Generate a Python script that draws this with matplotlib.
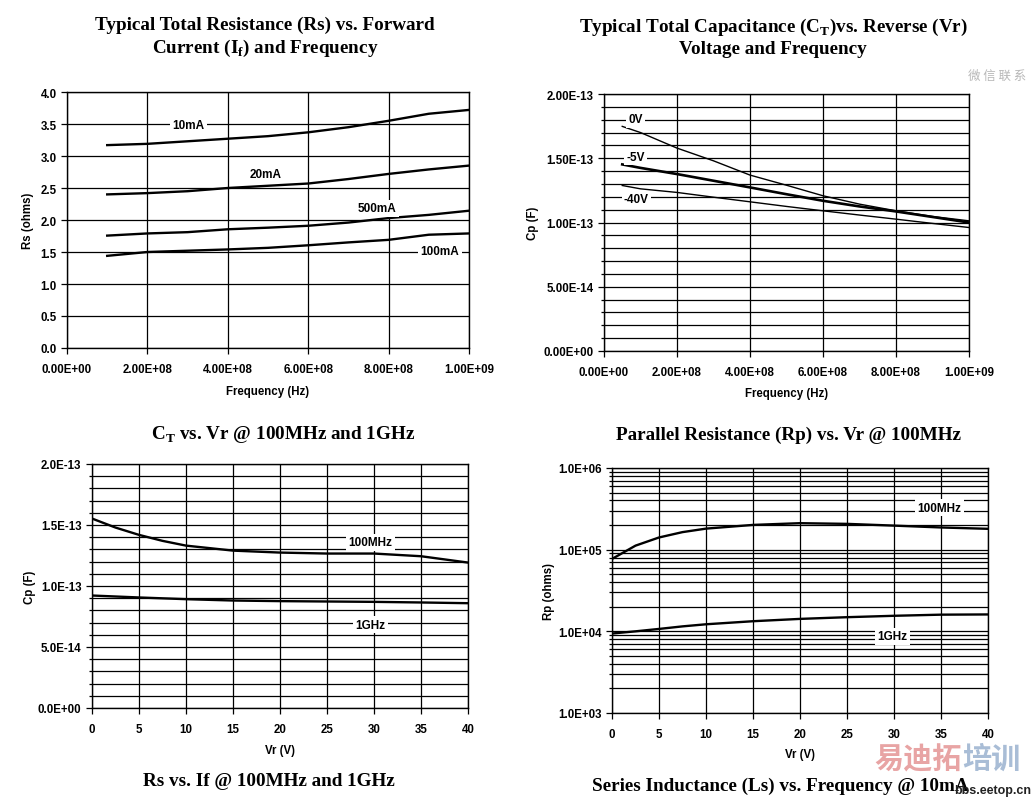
import numpy as np
import matplotlib
matplotlib.use("Agg")
import matplotlib.pyplot as plt
from matplotlib.ticker import MultipleLocator, FixedLocator, NullFormatter
from matplotlib.font_manager import FontProperties

W, H = 1033, 803

# ---- Rs vs frequency (top left)
freq_rs = [1e8, 2e8, 3e8, 4e8, 5e8, 6e8, 7e8, 8e8, 9e8, 1e9]
rs_10ma = [3.17, 3.19, 3.23, 3.27, 3.31, 3.37, 3.45, 3.55, 3.66, 3.72]
rs_20ma = [2.40, 2.42, 2.45, 2.50, 2.535, 2.57, 2.64, 2.72, 2.79, 2.85]
rs_500ma = [1.756, 1.79, 1.81, 1.855, 1.88, 1.91, 1.96, 2.03, 2.08, 2.145]
rs_100ma = [1.44, 1.50, 1.52, 1.54, 1.565, 1.605, 1.65, 1.69, 1.77, 1.79]

# ---- Cp vs frequency (top right), values in 1e-13 F
freq_cp = [5e7, 1e8, 2e8, 3e8, 4e8, 5e8, 6e8, 7e8, 8e8, 9e8, 1e9]
cp_0v = [1.748, 1.70, 1.579, 1.48, 1.369, 1.29, 1.208, 1.143, 1.091, 1.047, 1.013]
cp_5v = [1.452, 1.425, 1.377, 1.325, 1.273, 1.22, 1.169, 1.125, 1.086, 1.043, 1.00]
cp_40v = [1.288, 1.262, 1.234, 1.197, 1.161, 1.125, 1.091, 1.058, 1.026, 0.993, 0.961]

# ---- Cp vs Vr (bottom left), values in 1e-13 F
vr = [0, 2.5, 5, 7.5, 10, 15, 20, 25, 30, 35, 40]
ct_100mhz = [1.553, 1.479, 1.419, 1.37, 1.331, 1.29, 1.274, 1.266, 1.266, 1.244, 1.192]
ct_1ghz = [0.922, 0.914, 0.906, 0.899, 0.892, 0.881, 0.876, 0.873, 0.870, 0.865, 0.859]

# ---- Rp vs Vr (bottom right)
rp_100mhz = [7.7e4, 1.12e5, 1.41e5, 1.64e5, 1.81e5, 2.01e5, 2.11e5, 2.07e5, 1.97e5, 1.87e5, 1.80e5]
rp_1ghz = [9.4e3, 1.0e4, 1.07e4, 1.15e4, 1.22e4, 1.33e4, 1.42e4, 1.49e4, 1.55e4, 1.60e4, 1.61e4]

SANS = "Liberation Sans"
SERIF = "Liberation Serif"
TSIZE = 8.3


def rect(l, t, r, b):
    return [l / W, 1 - b / H, (r - l) / W, (b - t) / H]


def style(ax):
    ax.grid(True, which="both", color="black", lw=0.9)
    ax.set_axisbelow(True)
    for s in ax.spines.values():
        s.set_color("black")
        s.set_linewidth(1.0)
    ax.tick_params(which="major", direction="out", length=4, width=0.9, color="black")
    ax.tick_params(which="minor", direction="out", length=2.5, width=0.9, color="black")
    ax.tick_params(axis="x", pad=7)
    fp = FontProperties(family=SANS, weight="bold", size=TSIZE)
    for lab in ax.get_xticklabels() + ax.get_yticklabels():
        lab.set_fontproperties(fp)


def tag(ax, x, y, s):
    ax.text(x, y, s, ha="center", va="center", family=SANS, weight="bold", size=8.5,
            bbox=dict(fc="white", ec="none", pad=1.8), zorder=4)


def labels(ax, xl, yl, xpos, ypos):
    ax.set_xlabel(xl, family=SANS, weight="bold", size=8.3)
    ax.set_ylabel(yl, family=SANS, weight="bold", size=8.3)
    ax.xaxis.set_label_coords(*xpos)
    ax.yaxis.set_label_coords(*ypos)


def title(x, y, s, size=13.8):
    fig.text(x / W, 1 - y / H, s, ha="center", va="center", family=SERIF,
             weight="bold", size=size)


fig = plt.figure(figsize=(W / 100, H / 100), dpi=100)

# top left
ax1 = fig.add_axes(rect(67, 93, 469, 349))
for ys in (rs_10ma, rs_20ma, rs_500ma, rs_100ma):
    ax1.plot(freq_rs, ys, color="black", lw=1.7)
ax1.set_xlim(0, 1e9)
ax1.set_ylim(0, 4.0)
ax1.xaxis.set_major_locator(MultipleLocator(2e8))
ax1.yaxis.set_major_locator(MultipleLocator(0.5))
ax1.set_xticklabels(["{:.2E}".format(v) for v in ax1.get_xticks()])
ax1.set_yticklabels(["{:.1f}".format(v) for v in ax1.get_yticks()])
style(ax1)
tag(ax1, 3.02e8, 3.48, "10mA")
tag(ax1, 4.94e8, 2.72, "20mA")
tag(ax1, 7.72e8, 2.18, "500mA")
tag(ax1, 9.27e8, 1.51, "100mA")
labels(ax1, "Frequency (Hz)", "Rs (ohms)",
       ((268 - 67) / 402, -(386 - 349) / 256), (-(67 - 34) / 402, 0.5))

# top right
ax2 = fig.add_axes(rect(604, 95, 969, 352))
ax2.plot(freq_cp, np.array(cp_0v) * 1e-13, color="black", lw=1.0)
ax2.plot(freq_cp, np.array(cp_5v) * 1e-13, color="black", lw=1.9)
ax2.plot(freq_cp, np.array(cp_40v) * 1e-13, color="black", lw=1.0)
ax2.set_xlim(0, 1e9)
ax2.set_ylim(0, 2e-13)
ax2.xaxis.set_major_locator(MultipleLocator(2e8))
ax2.yaxis.set_major_locator(MultipleLocator(5e-14))
ax2.yaxis.set_minor_locator(MultipleLocator(1e-14))
ax2.set_xticklabels(["{:.2E}".format(v) for v in ax2.get_xticks()])
ax2.set_yticklabels(["{:.2E}".format(v) for v in ax2.get_yticks()])
style(ax2)
tag(ax2, 0.87e8, 1.805e-13, "0V")
tag(ax2, 0.87e8, 1.51e-13, "-5V")
tag(ax2, 0.89e8, 1.18e-13, "-40V")
labels(ax2, "Frequency (Hz)", "Cp (F)",
       ((787 - 604) / 365, -(388 - 352) / 257), (-(604 - 539) / 365, 0.5))

# bottom left
ax3 = fig.add_axes(rect(92, 465, 468, 709))
ax3.plot(vr, np.array(ct_100mhz) * 1e-13, color="black", lw=1.7)
ax3.plot(vr, np.array(ct_1ghz) * 1e-13, color="black", lw=1.7)
ax3.set_xlim(0, 40)
ax3.set_ylim(0, 2e-13)
ax3.xaxis.set_major_locator(MultipleLocator(5))
ax3.yaxis.set_major_locator(MultipleLocator(5e-14))
ax3.yaxis.set_minor_locator(MultipleLocator(1e-14))
ax3.set_xticklabels(["{:g}".format(v) for v in ax3.get_xticks()])
ax3.set_yticklabels(["{:.1E}".format(v) for v in ax3.get_yticks()])
style(ax3)
tag(ax3, 29.6, 1.359e-13, "100MHz")
tag(ax3, 29.65, 0.682e-13, "1GHz")
labels(ax3, "Vr (V)", "Cp (F)",
       (0.5, -(745 - 709) / 244), (-(92 - 36) / 376, 0.5))

# bottom right
ax4 = fig.add_axes(rect(612, 469, 988, 714))
ax4.plot(vr, rp_100mhz, color="black", lw=1.7)
ax4.plot(vr, rp_1ghz, color="black", lw=1.7)
ax4.set_yscale("log")
ax4.set_xlim(0, 40)
ax4.set_ylim(1e3, 1e6)
ax4.xaxis.set_major_locator(MultipleLocator(5))
ax4.yaxis.set_major_locator(FixedLocator([1e3, 1e4, 1e5, 1e6]))
ax4.yaxis.set_minor_locator(FixedLocator([m * 10 ** e for e in (3, 4, 5) for m in range(2, 10)]))
ax4.yaxis.set_minor_formatter(NullFormatter())
ax4.set_xticklabels(["{:g}".format(v) for v in ax4.get_xticks()])
ax4.set_yticklabels(["{:.1E}".format(v) for v in ax4.get_yticks()])
style(ax4)
tag(ax4, 34.8, 3.27e5, "100MHz")
tag(ax4, 29.8, 8.75e3, "1GHz")
labels(ax4, "Vr (V)", "Rp (ohms)",
       (0.5, -(749 - 714) / 245), (-(612 - 555) / 376, 0.5))

# titles
title(265, 25, "Typical Total Resistance (Rs) vs. Forward")
title(265, 48, r"Current (I$_\mathregular{f}$) and Frequency")
title(773, 27, r"Typical Total Capacitance (C$_\mathregular{T}$)vs. Reverse (Vr)")
title(773, 49, "Voltage and Frequency")
title(283, 435, r"C$_\mathregular{T}$ vs. Vr @ 100MHz and 1GHz")
title(788, 435, "Parallel Resistance (Rp) vs. Vr @ 100MHz")
title(269, 782, "Rs vs. If @ 100MHz and 1GHz")
title(780, 786, "Series Inductance (Ls) vs. Frequency @ 10mA")

# watermarks
cjk = ["Noto Sans CJK SC", "DejaVu Sans"]
fig.text(874 / W, 1 - 759 / H, "易迪拓", family=cjk, weight="bold", size=21,
         color="#e8a4a4", va="center", ha="left")
fig.text(962 / W, 1 - 759 / H, "培训", family=cjk, weight="bold", size=21,
         color="#a9bdd6", va="center", ha="left")
fig.text(1031 / W, 1 - 791 / H, "bbs.eetop.cn", family=SANS, weight="bold", size=9,
         color="#222222", va="center", ha="right")
fig.text(997 / W, 1 - 76 / H, "微 信 联 系", family=cjk, size=9,
         color="#b8b8b8", va="center", ha="center")

fig.savefig("out.png", dpi=100)
